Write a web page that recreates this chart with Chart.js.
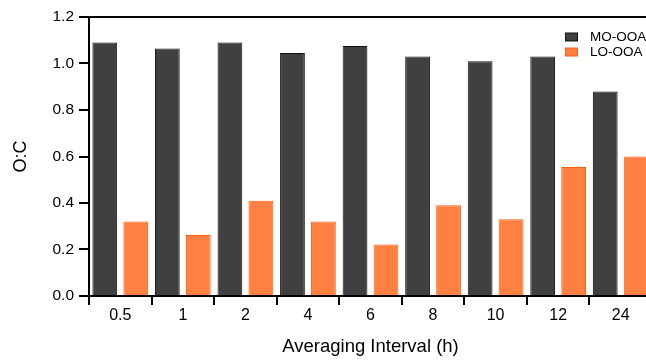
<!DOCTYPE html>
<html>
<head>
<meta charset="utf-8">
<script src="https://cdn.jsdelivr.net/npm/chart.js@4/dist/chart.umd.min.js"></script>
<style>
  html, body { margin: 0; padding: 0; background: #fff; overflow: hidden; }
  #wrap { width: 652px; height: 360px; }
</style>
</head>
<body>
<div id="wrap"><canvas id="ocChart" width="652" height="360"></canvas></div>
<script>
// averaging intervals (hours)
const intervals = ["0.5", "1", "2", "4", "6", "8", "10", "12", "24"];
// O:C ratio of each factor
const moOoa = [1.09, 1.065, 1.09, 1.045, 1.075, 1.03, 1.01, 1.03, 0.88];
const loOoa = [0.32, 0.262, 0.41, 0.32, 0.222, 0.39, 0.33, 0.555, 0.60];
const yTicks = [0, 0.2, 0.4, 0.6, 0.8, 1.0, 1.2];

const FONT = "'Liberation Sans', Arial, Helvetica, sans-serif";

// top frame line + small legend box in the upper right
const framePlugin = {
  id: "frame",
  afterDraw(chart) {
    const { ctx, chartArea } = chart;
    ctx.save();
    ctx.strokeStyle = "#000";
    ctx.lineWidth = 2;
    ctx.beginPath();
    ctx.moveTo(chartArea.left - 10, chartArea.top);
    ctx.lineTo(chartArea.right + 2, chartArea.top);
    ctx.stroke();

    ctx.font = "13.5px " + FONT;
    ctx.textBaseline = "middle";
    chart.data.datasets.forEach((ds, i) => {
      const y = 37 + i * 15;
      ctx.fillStyle = ds.backgroundColor;
      ctx.strokeStyle = ds.borderColor;
      ctx.lineWidth = 1;
      ctx.fillRect(565.5, y - 4, 12, 8);
      ctx.strokeRect(565.5, y - 4, 12, 8);
      ctx.fillStyle = "#000";
      ctx.fillText(ds.label, 590, y + 0.5);
    });
    ctx.restore();
  },
};

new Chart(document.getElementById("ocChart"), {
  type: "bar",
  data: {
    labels: intervals,
    datasets: [
      {
        label: "MO-OOA",
        data: moOoa,
        backgroundColor: "#404040",
        borderColor: "#111",
        borderWidth: 1,
        categoryPercentage: 0.99,
        barPercentage: 0.8,
      },
      {
        label: "LO-OOA",
        data: loOoa,
        backgroundColor: "#ff8040",
        borderColor: "#ff5f10",
        borderWidth: 1,
        categoryPercentage: 0.99,
        barPercentage: 0.8,
      },
    ],
  },
  options: {
    responsive: false,
    animation: false,
    layout: { padding: { top: 17, right: 0, left: 0, bottom: 0 } },
    plugins: {
      legend: { display: false },
      tooltip: { enabled: false },
    },
    scales: {
      x: {
        offset: true,
        grid: {
          offset: true,
          drawOnChartArea: false,
          drawTicks: true,
          tickLength: 9,
          color: "#000",
          lineWidth: 2,
        },
        border: { display: true, color: "#000", width: 2 },
        ticks: {
          color: "#000",
          font: { family: FONT, size: 16 },
          padding: 1,
        },
        title: {
          display: true,
          text: "Averaging Interval (h)",
          color: "#000",
          font: { family: FONT, size: 18.5 },
          padding: { top: 10, bottom: 2 },
        },
        afterFit(scale) {
          scale.height = 64;
        },
      },
      y: {
        min: 0,
        max: 1.2,
        afterBuildTicks(scale) {
          scale.ticks = yTicks.map((v) => ({ value: v }));
        },
        grid: {
          drawOnChartArea: false,
          drawTicks: true,
          tickLength: 10,
          color: "#000",
          lineWidth: 2,
        },
        border: { display: true, color: "#000", width: 2 },
        ticks: {
          color: "#000",
          font: { family: FONT, size: 15.5 },
          padding: 5,
          callback: (v) => Number(v).toFixed(1),
        },
        title: {
          display: true,
          text: "O:C",
          color: "#000",
          font: { family: FONT, size: 18 },
          padding: { top: 10, bottom: 0 },
        },
        afterFit(scale) {
          scale.width = 89;
        },
      },
    },
  },
  plugins: [framePlugin],
});
</script>
</body>
</html>
